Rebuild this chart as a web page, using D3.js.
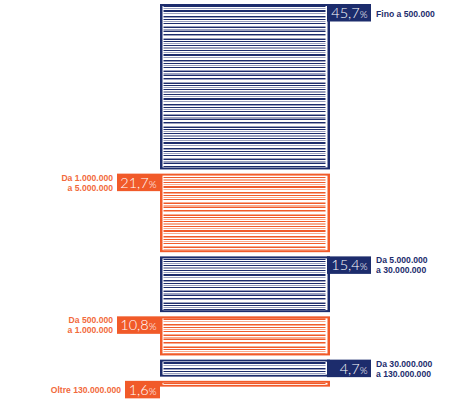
<!DOCTYPE html>
<html><head><meta charset="utf-8">
<script src="https://cdn.jsdelivr.net/npm/d3@7"></script>
<style>html,body{margin:0;padding:0;background:#fff;}svg{display:block;}</style>
</head><body>
<svg id="c" width="454" height="400"></svg>
<script>
const categories = [
  ["Fino a 500.000"],
  ["Da 1.000.000", "a 5.000.000"],
  ["Da 5.000.000", "a 30.000.000"],
  ["Da 500.000", "a 1.000.000"],
  ["Da 30.000.000", "a 130.000.000"],
  ["Oltre 130.000.000"]
];
const values = [45.7, 21.7, 15.4, 10.8, 4.7, 1.6];
const valueLabels = ["45,7", "21,7", "15,4", "10,8", "4,7", "1,6"];
const sides = ["right", "left", "right", "left", "right", "left"];

const NAVY = "#1c2c6c", ORANGE = "#f15a29";
const TXT_NAVY = "#1c2c6c", TXT_ORANGE = "#f26a3c";
const palette = {
  right: {main: NAVY, light: "#9aa0bd", text: TXT_NAVY},
  left: {main: ORANGE, light: "#f8ab8f", text: TXT_ORANGE}
};
const stripeRows = "wdwllwdwlwddwlwwdlwdwlwdwwldwlldwwdlwwldwdwl";

const svg = d3.select("#c");
const gap = 4.2, top0 = 4;
const h = d3.scaleLinear().domain([0, 100]).range([0, 362]);
const x = d3.scaleLinear().domain([0, 1]).range([160, 330]);

let cum = 0;
const data = values.map((v, i) => {
  const d = {v, i, side: sides[i], lines: categories[i], label: valueLabels[i],
    y: top0 + h(cum) + i * gap, height: h(v)};
  cum += v;
  return d;
});

const defs = svg.append("defs");
["right", "left"].forEach(s => {
  const p = defs.append("pattern").attr("id", "stripe-" + s)
    .attr("patternUnits", "userSpaceOnUse").attr("width", 10).attr("height", stripeRows.length);
  stripeRows.split("").forEach((c, k) => {
    p.append("rect").attr("x", 0).attr("y", k).attr("width", 10).attr("height", 1)
      .attr("fill", c === "d" ? palette[s].main : c === "l" ? palette[s].light : "#fff");
  });
});

const g = svg.selectAll("g.block").data(data).join("g").attr("class", "block");
const x0 = x(0), x1 = x(1), bw = x1 - x0;
g.append("rect").attr("x", x0).attr("y", d => d.y).attr("width", bw).attr("height", d => d.height)
  .attr("fill", d => palette[d.side].main);
g.append("rect").attr("x", x0 + 2.5).attr("y", d => d.y + 2).attr("width", bw - 5)
  .attr("height", d => Math.max(0, d.height - 4)).attr("fill", "#fff");
g.append("rect").attr("x", x0 + 3.5).attr("y", d => d.y + 2).attr("width", bw - 8)
  .attr("height", d => Math.max(0, d.height - 4)).attr("fill", d => "url(#stripe-" + d.side + ")");

// value boxes
g.each(function(d) {
  const sel = d3.select(this);
  const t = sel.append("text").attr("fill", "#fff")
    .style("font-family", "Lato, 'Open Sans', sans-serif").style("font-weight", 300);
  t.append("tspan").text(d.label).style("font-size", "14.5px");
  t.append("tspan").text("%").style("font-size", "10px");
  const tw = t.node().getComputedTextLength();
  const boxH = 17.5;
  let bx, bwid;
  if (d.side === "right") { bwid = 44; bx = x1 - 3; }
  else { bwid = Math.round(tw + 7); bx = x0 - bwid; }
  sel.insert("rect", "text").attr("x", bx).attr("y", d.y).attr("width", bwid).attr("height", boxH)
    .attr("fill", palette[d.side].main);
  t.attr("x", bx + bwid - tw - 3.5).attr("y", d.y + 14);
  // category labels
  const lt = sel.append("text").attr("fill", palette[d.side].text)
    .style("font-family", "'Liberation Sans', Arial, sans-serif").style("font-weight", 700).style("font-size", "8.6px")
    .attr("text-anchor", d.side === "right" ? "start" : "end");
  const lx = d.side === "right" ? bx + bwid + 5 : bx - 4;
  const single = d.lines.length === 1;
  d.lines.forEach((ln, k) => {
    lt.append("tspan").attr("x", lx).attr("y", d.y + (single ? 12.5 : 7 + k * 10)).text(ln);
  });
});
</script>
</body></html>
